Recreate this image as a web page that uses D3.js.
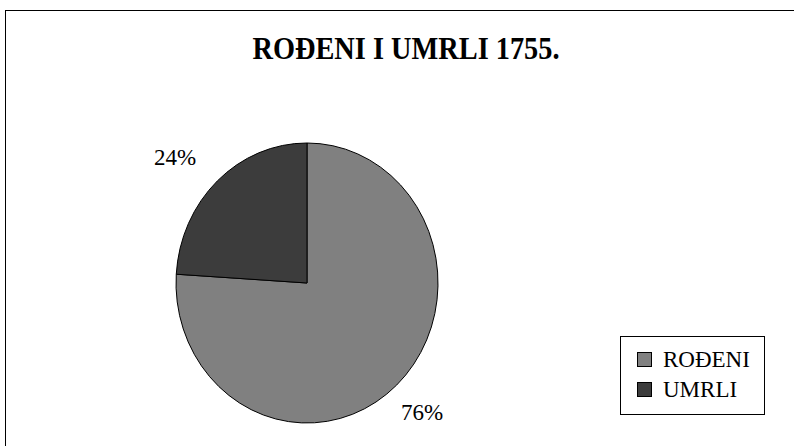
<!DOCTYPE html>
<html>
<head>
<meta charset="utf-8">
<script src="https://d3js.org/d3.v7.min.js"></script>
<style>
  body { margin: 0; background: #fff; }
  svg text { font-family: "Liberation Serif", "Times New Roman", serif; fill: #000; }
</style>
</head>
<body>
<div id="chart"></div>
<script>
// Data
const categories = ['ROĐENI', 'UMRLI'];
const values = [76, 24];
const colors = ['#808080', '#3c3c3c'];
const labels = ['76%', '24%'];

const width = 794, height = 446;
const svg = d3.select('#chart').append('svg')
  .attr('width', width)
  .attr('height', height);

// outer frame
svg.append('rect')
  .attr('x', 5.5).attr('y', 10.5)
  .attr('width', 800).attr('height', 450)
  .attr('fill', '#fff')
  .attr('stroke', '#000')
  .attr('stroke-width', 1);

svg.append('text')
  .attr('x', 406).attr('y', 59)
  .attr('text-anchor', 'middle')
  .attr('font-size', 31)
  .attr('font-weight', 'bold')
  .attr('textLength', 307)
  .attr('lengthAdjust', 'spacingAndGlyphs')
  .text('ROĐENI I UMRLI 1755.');

// pie (slightly elliptical, as in the original)
const cx = 307, cy = 283, ry = 140, rx = 131;
const pie = d3.pie().sort(null).value(d => d);
const arcs = pie(values);
const arc = d3.arc().innerRadius(0).outerRadius(ry);

const g = svg.append('g')
  .attr('transform', `translate(${cx},${cy}) scale(${rx / ry},1)`);

g.selectAll('path')
  .data(arcs)
  .enter()
  .append('path')
  .attr('d', arc)
  .attr('fill', (d, i) => colors[i])
  .attr('stroke', '#000')
  .attr('stroke-width', 1)
  .attr('vector-effect', 'non-scaling-stroke');

// percentage labels outside the pie
const labelPos = [[422, 420], [175, 165]];
svg.selectAll('.pct')
  .data(arcs)
  .enter()
  .append('text')
  .attr('class', 'pct')
  .attr('x', (d, i) => labelPos[i][0])
  .attr('y', (d, i) => labelPos[i][1])
  .attr('text-anchor', 'middle')
  .attr('font-size', 23)
  .text((d, i) => labels[i]);

// legend
const legend = svg.append('g');
legend.append('rect')
  .attr('x', 620.5).attr('y', 336.5)
  .attr('width', 144).attr('height', 78)
  .attr('fill', '#fff')
  .attr('stroke', '#000');

const items = legend.selectAll('.item')
  .data(categories)
  .enter()
  .append('g')
  .attr('transform', (d, i) => `translate(0, ${i * 30})`);

items.append('rect')
  .attr('x', 637.5).attr('y', 352.5)
  .attr('width', 14).attr('height', 14)
  .attr('fill', (d, i) => colors[i])
  .attr('stroke', '#000');

items.append('text')
  .attr('x', 663).attr('y', 367)
  .attr('font-size', 23)
  .text(d => d);
</script>
</body>
</html>
